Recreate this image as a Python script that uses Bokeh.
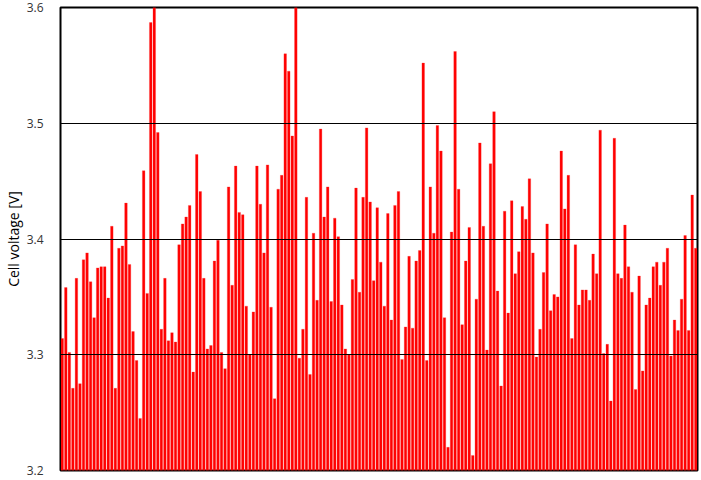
from bokeh.plotting import figure
from bokeh.models import Range1d, FixedTicker, ColumnDataSource
from bokeh.embed import file_html
from bokeh.resources import INLINE

# Cell voltages [V] (cells 1..180)
voltages_a = [3.314, 3.358, 3.302, 3.271, 3.366, 3.275, 3.382, 3.388, 3.363, 3.332,
              3.375, 3.376, 3.376, 3.349, 3.411, 3.271, 3.392, 3.394, 3.431, 3.378,
              3.320, 3.295, 3.245, 3.459, 3.353, 3.587, 3.600, 3.492, 3.322, 3.366,
              3.312, 3.319, 3.311, 3.395, 3.413, 3.419, 3.429, 3.285, 3.473, 3.441,
              3.366, 3.305, 3.308, 3.381, 3.399]
voltages_b = [3.302, 3.288, 3.445, 3.360, 3.463, 3.423, 3.421, 3.342, 3.300, 3.337,
              3.463, 3.430, 3.388, 3.464, 3.341, 3.262, 3.443, 3.455, 3.560, 3.545,
              3.489, 3.600, 3.297, 3.322, 3.436, 3.283, 3.405, 3.347, 3.495, 3.419,
              3.445, 3.346, 3.418, 3.402, 3.343, 3.305, 3.300, 3.365, 3.444, 3.354,
              3.436, 3.496, 3.432, 3.364, 3.427]
voltages_c = [3.380, 3.342, 3.422, 3.330, 3.429, 3.441, 3.296, 3.324, 3.385, 3.323,
              3.381, 3.390, 3.552, 3.295, 3.445, 3.405, 3.498, 3.476, 3.332, 3.220,
              3.406, 3.562, 3.443, 3.326, 3.381, 3.410, 3.213, 3.348, 3.483, 3.411,
              3.304, 3.465, 3.510, 3.355, 3.273, 3.424, 3.336, 3.433, 3.370, 3.389,
              3.428, 3.417, 3.452, 3.388, 3.298]
voltages_d = [3.322, 3.371, 3.413, 3.338, 3.352, 3.350, 3.476, 3.426, 3.455, 3.314,
              3.395, 3.343, 3.356, 3.356, 3.347, 3.387, 3.370, 3.494, 3.301, 3.309,
              3.260, 3.487, 3.370, 3.366, 3.412, 3.376, 3.354, 3.270, 3.368, 3.286,
              3.343, 3.349, 3.376, 3.380, 3.360, 3.380, 3.392, 3.299, 3.330, 3.321,
              3.348, 3.403, 3.321, 3.438, 3.392]
y_ticks = [3.2, 3.3, 3.4, 3.5, 3.6]
y_label = "Cell voltage [V]"

voltages = voltages_a + voltages_b + voltages_c + voltages_d
cells = list(range(1, len(voltages) + 1))
src = ColumnDataSource(dict(cell=cells, v=voltages))

p = figure(frame_width=637, frame_height=463, output_backend="svg",
           toolbar_location=None,
           x_range=Range1d(0.5, len(voltages) + 0.5),
           y_range=Range1d(y_ticks[0], y_ticks[-1]),
           min_border_top=7, min_border_bottom=9, min_border_right=4,
           min_border_left=0)

p.vbar(x="cell", top="v", bottom=y_ticks[0], width=0.72, source=src,
       fill_color="#ff0000", line_color="#ff3030", line_width=0.3)

p.xaxis.visible = False
p.xgrid.visible = False

p.yaxis.ticker = FixedTicker(ticks=y_ticks)
p.yaxis.axis_line_color = None
p.yaxis.major_tick_line_color = None
p.yaxis.minor_tick_line_color = None
p.yaxis.major_label_standoff = 11
p.yaxis.major_label_text_font = "Open Sans"
p.yaxis.major_label_text_font_size = "12px"
p.yaxis.major_label_text_color = "#333333"
p.yaxis.axis_label = y_label
p.yaxis.axis_label_text_font = "Open Sans"
p.yaxis.axis_label_text_font_size = "14px"
p.yaxis.axis_label_text_font_style = "normal"
p.yaxis.axis_label_text_color = "#000000"
p.yaxis.axis_label_standoff = 1

p.ygrid.ticker = FixedTicker(ticks=y_ticks)
p.ygrid.grid_line_color = "#000000"
p.ygrid.grid_line_width = 1.2
p.ygrid.level = "overlay"

p.outline_line_color = "#000000"
p.outline_line_width = 2
p.background_fill_color = "white"
p.border_fill_color = "white"

open("out.html", "w").write(file_html(p, INLINE))
